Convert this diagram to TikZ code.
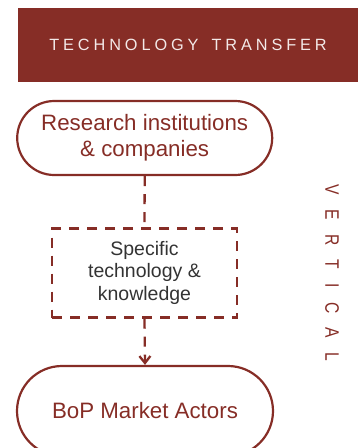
\documentclass[tikz,border=0pt]{standalone}
\usepackage{fontspec}
\setmainfont{Liberation Sans}
\usetikzlibrary{arrows.meta}
\definecolor{brick}{HTML}{862D26}
\definecolor{bannertext}{HTML}{F3E9E8}
\definecolor{boxtext}{HTML}{333333}
\newfontfamily\bannerfont[LetterSpace=24]{Liberation Sans}
\newfontfamily\vertfont[LetterSpace=92]{Liberation Sans}
\begin{document}
\begin{tikzpicture}[x=1pt,y=-1pt,
  banner/.style={fill=brick, inner sep=0pt, minimum width=340pt, minimum height=73.5pt,
    text=bannertext, font=\bannerfont\fontsize{16.3}{19}\selectfont},
  pill/.style={draw=brick, line width=2.2pt, rounded corners=#1, inner sep=0pt,
    text=brick, align=center, font=\fontsize{22.3}{26}\selectfont},
  dashbox/.style={draw=brick, line width=2.3pt, dash pattern=on 10pt off 8pt, inner sep=0pt,
    text=boxtext, align=center, font=\fontsize{19.5}{23.5}\selectfont},
  dashlink/.style={draw=brick, line width=2.3pt, dash pattern=on 10pt off 8pt},
  vlabel/.style={text=brick, rotate=-90, inner sep=0pt, font=\vertfont\fontsize{19.5}{22}\selectfont}
]
\useasboundingbox (0,0) rectangle (358,448);
\node[banner] (banner) at (188,44.75) {TECHNOLOGY\hspace{4.5pt} TRANSFER};
\node[pill=37pt, minimum width=255pt, minimum height=74pt] (src) at (144.7,138)
  {Research institutions\\\& companies};
\node[dashbox, minimum width=185pt, minimum height=89pt] (tech) at (144.5,273)
  {\raisebox{-2pt}{Specific}\\technology \&\\knowledge};
\node[pill=45pt, minimum width=256pt, minimum height=90pt] (bop) at (145,411)
  {BoP Market Actors};
\draw[dashlink] (src.south) -- (tech.north);
\draw[dashlink, -{Straight Barb[length=7pt, width=11pt, line width=2.3pt]}] (tech.south) -- (bop.north);
\node[vlabel] (vert) at (332,273) {\scalebox{0.8}[1]{VERTICAL}};
\end{tikzpicture}
\end{document}
